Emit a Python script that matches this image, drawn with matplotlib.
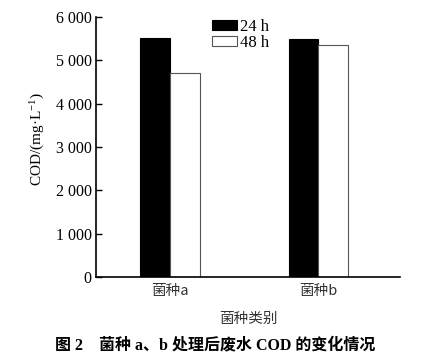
import matplotlib
matplotlib.use("Agg")
import matplotlib.pyplot as plt
import numpy as np

plt.rcParams["mathtext.fontset"] = "custom"
plt.rcParams["mathtext.rm"] = "Liberation Serif"
plt.rcParams["mathtext.it"] = "Liberation Serif:italic"
plt.rcParams["mathtext.bf"] = "Liberation Serif:bold"

categories = ["菌种a", "菌种b"]
series_names = ["24 h", "48 h"]
values_24h = [5520, 5500]
values_48h = [4700, 5350]
yticks = [0, 1000, 2000, 3000, 4000, 5000, 6000]
ytick_labels = ["0", "1 000", "2 000", "3 000", "4 000", "5 000", "6 000"]

serif = ["Liberation Serif", "Noto Sans CJK SC"]
cjk = ["Noto Sans CJK SC", "Liberation Serif"]

fig = plt.figure(figsize=(4.3, 3.63), dpi=100)
ax = fig.add_axes([96/430, 1-277/363, (400-96)/430, (277-17)/363])

x = np.arange(len(categories))
w = 0.2
ax.bar(x - w/2, values_24h, width=w, color="black", edgecolor="black", linewidth=0.8, label=series_names[0])
ax.bar(x + w/2, values_48h, width=w, color="white", edgecolor="#555555", linewidth=0.8, label=series_names[1])

ax.set_xlim(-0.5, 1.55)
ax.set_ylim(0, 6000)
ax.set_yticks(yticks)
ax.set_yticklabels(ytick_labels, family=serif, fontsize=11.5)
ax.set_xticks(x)
ax.set_xticklabels(categories, family=cjk, fontsize=10.5, color="#333333")
ax.tick_params(axis="y", direction="in", length=4, width=1, pad=3)
ax.tick_params(axis="x", length=0, pad=5)
for s in ["top", "right"]:
    ax.spines[s].set_visible(False)
ax.spines["left"].set_linewidth(1.2)
ax.spines["bottom"].set_linewidth(1.2)

ax.set_ylabel(r"COD/(mg·L$^{\mathrm{-1}}$)", family=serif, fontsize=11)
ax.yaxis.set_label_coords(-0.16, 0.53)
ax.set_xlabel("菌种类别", family=cjk, fontsize=10.5, color="#333333", labelpad=10)

leg = ax.legend(loc="upper left", bbox_to_anchor=((212-96)/304, 1-(19-17)/260), frameon=False,
                prop={"family": serif, "size": 12}, handlelength=1.5, handleheight=0.55,
                labelspacing=0.0, handletextpad=0.2, borderpad=0, borderaxespad=0)

fig.text(0.5, 1-345/363, "图 2　菌种 a、b 处理后废水 COD 的变化情况", ha="center", va="center",
         family=serif, fontsize=11.5, fontweight="bold")

fig.savefig("out.png", dpi=100, facecolor="white")
